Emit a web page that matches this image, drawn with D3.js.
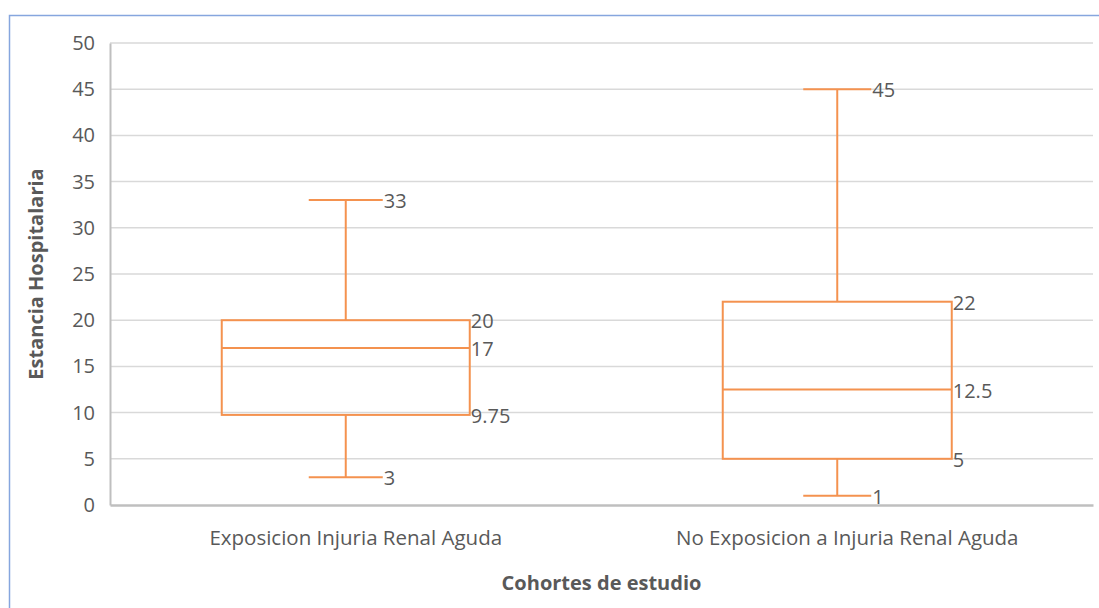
<!DOCTYPE html>
<html><head><meta charset="utf-8">
<script src="https://cdn.jsdelivr.net/npm/d3@7"></script>
<style>body{margin:0;background:#fff;} svg{display:block;}</style>
</head><body>
<svg id="c" width="1099" height="608"></svg>
<script>
const categories = ["Exposicion Injuria Renal Aguda", "No Exposicion a Injuria Renal Aguda"];
const minValues = [3, 1];
const q1Values = [9.75, 5];
const medianValues = [17, 12.5];
const q3Values = [20, 22];
const maxValues = [33, 45];
const yTicks = [0, 5, 10, 15, 20, 25, 30, 35, 40, 45, 50];

const svg = d3.select("#c");
const W = 1099, H = 608;
const m = {left: 110, right: 6, top: 43, bottom: 103};
const font = "'Open Sans', sans-serif";
const txt = "#595959";
const orange = "#F4924F";

// outer border
svg.append("rect").attr("x", 9.5).attr("y", 15.5).attr("width", W + 20).attr("height", H + 20)
  .attr("fill", "none").attr("stroke", "#86A6DE").attr("stroke-width", 1.5);

const x = d3.scaleBand().domain(categories).range([m.left, W - m.right]);
const y = d3.scaleLinear().domain([0, 50]).range([H - m.bottom, m.top]);

// gridlines
svg.append("g").selectAll("line").data(yTicks.filter(t => t > 0)).join("line")
  .attr("x1", m.left).attr("x2", W - m.right)
  .attr("y1", d => y(d)).attr("y2", d => y(d))
  .attr("stroke", "#D9D9D9").attr("stroke-width", 1.5);

// y axis
const yAxis = svg.append("g").attr("transform", `translate(${m.left},0)`)
  .call(d3.axisLeft(y).tickValues(yTicks).tickSize(0).tickPadding(15));
yAxis.select(".domain").attr("stroke", "#BFBFBF").attr("stroke-width", 2);
yAxis.selectAll("text").attr("font-family", font).attr("font-size", 20).attr("fill", txt);

// x axis
const xAxis = svg.append("g").attr("transform", `translate(0,${y(0)})`)
  .call(d3.axisBottom(x).tickSize(0).tickPadding(25));
xAxis.select(".domain").attr("stroke", "#BFBFBF").attr("stroke-width", 2.5);
xAxis.selectAll("text").attr("font-family", font).attr("font-size", 20.5).attr("fill", txt);

// boxes
const boxOffset = -10;
const boxWidths = [248, 229];
const capWidths = [74, 68];
const data = categories.map((c, i) => ({c, i, min: minValues[i], q1: q1Values[i], med: medianValues[i], q3: q3Values[i], max: maxValues[i]}));
const g = svg.append("g");
data.forEach(d => {
  const cx = x(d.c) + x.bandwidth() / 2 + boxOffset;
  const bw = boxWidths[d.i], cw = capWidths[d.i];
  const gg = g.append("g").attr("stroke", orange).attr("stroke-width", 2).attr("fill", "none");
  gg.append("line").attr("x1", cx).attr("x2", cx).attr("y1", y(d.q3)).attr("y2", y(d.max));
  gg.append("line").attr("x1", cx).attr("x2", cx).attr("y1", y(d.q1)).attr("y2", y(d.min));
  gg.append("line").attr("x1", cx - cw / 2).attr("x2", cx + cw / 2).attr("y1", y(d.max)).attr("y2", y(d.max));
  gg.append("line").attr("x1", cx - cw / 2).attr("x2", cx + cw / 2).attr("y1", y(d.min)).attr("y2", y(d.min));
  gg.append("rect").attr("x", cx - bw / 2).attr("y", y(d.q3)).attr("width", bw).attr("height", y(d.q1) - y(d.q3));
  gg.append("line").attr("x1", cx - bw / 2).attr("x2", cx + bw / 2).attr("y1", y(d.med)).attr("y2", y(d.med));
  const labels = [
    {v: d.max, x: cx + cw / 2}, {v: d.min, x: cx + cw / 2},
    {v: d.q3, x: cx + bw / 2}, {v: d.med, x: cx + bw / 2}, {v: d.q1, x: cx + bw / 2}
  ];
  g.selectAll(null).data(labels).enter().append("text")
    .attr("x", l => l.x + 1).attr("y", l => y(l.v) + 8)
    .attr("font-family", font).attr("font-size", 20).attr("fill", txt)
    .text(l => l.v);
});

// axis titles
svg.append("text").attr("transform", `translate(43,${(y(0) + y(50)) / 2}) rotate(-90)`)
  .attr("text-anchor", "middle").attr("font-family", font).attr("font-weight", "bold")
  .attr("font-size", 20).attr("fill", txt).text("Estancia Hospitalaria");
svg.append("text").attr("x", (m.left + W - m.right) / 2).attr("y", 590)
  .attr("text-anchor", "middle").attr("font-family", font).attr("font-weight", "bold")
  .attr("font-size", 20).attr("fill", txt).text("Cohortes de estudio");
</script>
</body></html>
